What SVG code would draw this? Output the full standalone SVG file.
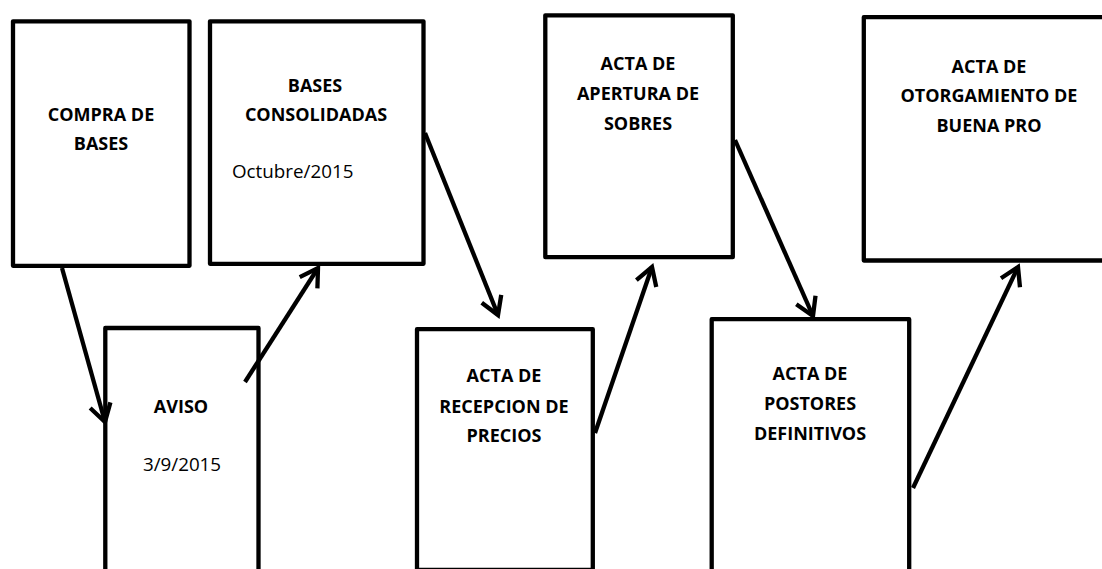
<svg xmlns="http://www.w3.org/2000/svg" width="1102" height="569" viewBox="0 0 1102 569">
  <style>
    .box { fill: #ffffff; stroke: #000000; stroke-width: 4.3; stroke-linejoin: round; }
    .title { font-family: "Open Sans", "Liberation Sans", sans-serif; font-weight: 700; font-size: 18px; fill: #000000; text-anchor: middle; }
    .date { font-family: "Open Sans", "Liberation Sans", sans-serif; font-weight: 400; font-size: 18.8px; fill: #000000; }
    .conn { fill: none; stroke: #000000; stroke-width: 4.3; }
  </style>
  <defs>
    <marker id="arrow" viewBox="-22 -14 26 28" refX="0" refY="0" markerWidth="26" markerHeight="28" markerUnits="userSpaceOnUse" orient="auto" overflow="visible">
      <path d="M-17.5,-10.5 L0,0 L-17.5,10.5" fill="none" stroke="#000000" stroke-width="4.3" stroke-linejoin="miter"/>
    </marker>
  </defs>
  <rect width="1102" height="569" fill="#ffffff"/>

  <g id="node-compra">
    <rect class="box" x="13" y="21.3" width="176.5" height="244.5"/>
    <text class="title" x="101" y="121">COMPRA DE</text>
    <text class="title" x="101" y="150">BASES</text>
  </g>

  <g id="node-bases">
    <rect class="box" x="210" y="21.3" width="213.5" height="242.5"/>
    <text class="title" x="315" y="92">BASES</text>
    <text class="title" x="316" y="121">CONSOLIDADAS</text>
    <text class="date" x="232" y="178">Octubre/2015</text>
  </g>

  <g id="node-aviso">
    <rect class="box" x="105.3" y="328" width="153.2" height="260"/>
    <text class="title" x="181" y="413">AVISO</text>
    <text class="date" x="182" y="471" text-anchor="middle">3/9/2015</text>
  </g>

  <g id="node-apertura">
    <rect class="box" x="545.3" y="15.3" width="187.5" height="241.9"/>
    <text class="title" x="638" y="70">ACTA DE</text>
    <text class="title" x="638" y="100">APERTURA DE</text>
    <text class="title" x="638" y="129.5">SOBRES</text>
  </g>

  <g id="node-recepcion">
    <rect class="box" x="417" y="329.2" width="175.8" height="240.8"/>
    <text class="title" x="504" y="382">ACTA DE</text>
    <text class="title" x="504" y="413">RECEPCION DE</text>
    <text class="title" x="504" y="442">PRECIOS</text>
  </g>

  <g id="node-postores">
    <rect class="box" x="711.7" y="319.2" width="197.5" height="270"/>
    <text class="title" x="810" y="379.5">ACTA DE</text>
    <text class="title" x="810" y="410">POSTORES</text>
    <text class="title" x="810" y="440">DEFINITIVOS</text>
  </g>

  <g id="node-otorgamiento">
    <rect class="box" x="863.8" y="17.2" width="260" height="243.3"/>
    <text class="title" x="989" y="73">ACTA DE</text>
    <text class="title" x="989" y="102">OTORGAMIENTO DE</text>
    <text class="title" x="989" y="132">BUENA PRO</text>
  </g>

  <g id="connectors">
    <line class="conn" x1="62" y1="268" x2="105" y2="422" marker-end="url(#arrow)"/>
    <line class="conn" x1="245" y1="382" x2="318" y2="268" marker-end="url(#arrow)"/>
    <line class="conn" x1="425" y1="133" x2="498" y2="315" marker-end="url(#arrow)"/>
    <line class="conn" x1="595" y1="433" x2="652" y2="267" marker-end="url(#arrow)"/>
    <line class="conn" x1="735" y1="140" x2="813" y2="316" marker-end="url(#arrow)"/>
    <line class="conn" x1="913" y1="488" x2="1018" y2="267" marker-end="url(#arrow)"/>
  </g>
</svg>
